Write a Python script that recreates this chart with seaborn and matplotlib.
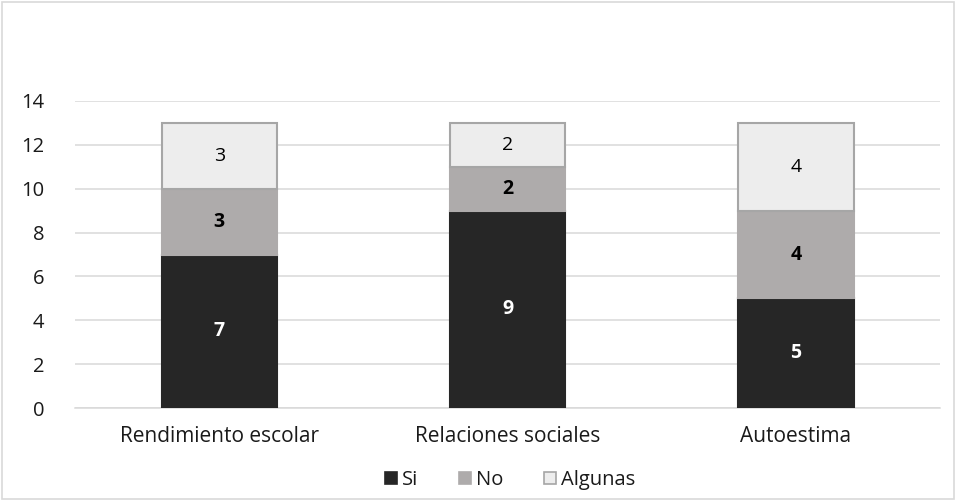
import matplotlib
matplotlib.use("Agg")
import matplotlib.pyplot as plt
from matplotlib.patches import Patch, Rectangle
import numpy as np
import pandas as pd
import seaborn as sns

categories = ["Rendimiento escolar", "Relaciones sociales", "Autoestima"]
si = [7, 9, 5]
no = [3, 2, 4]
algunas = [3, 2, 4]
series_names = ["Si", "No", "Algunas"]
y_ticks = [0, 2, 4, 6, 8, 10, 12, 14]

sns.set_theme(style="white")
plt.rcParams["font.family"] = ["Open Sans", "DejaVu Sans"]

fig = plt.figure(figsize=(9.56, 5.0), dpi=100)
ax = fig.add_axes([75 / 956, 92 / 500, 865 / 956, 307 / 500])

fills = {"Si": "#262626", "No": "#AEABAB", "Algunas": "#EDEDED"}
edges = {"Si": "#262626", "No": "#AEABAB", "Algunas": "#A6A6A6"}
label_style = {
    "Si": dict(color="white", fontweight="bold"),
    "No": dict(color="black", fontweight="bold"),
    "Algunas": dict(color="black", fontweight="normal"),
}

FS = 15

values = {"Si": si, "No": no, "Algunas": algunas}
bottom = np.zeros(len(categories))
for name in series_names:
    df = pd.DataFrame({"cat": categories, "val": values[name]})
    sns.barplot(data=df, x="cat", y="val", ax=ax, color=fills[name],
                width=0.4, bottom=bottom.copy(), edgecolor=edges[name],
                linewidth=1.5, saturation=1, zorder=3)
    container = ax.containers[-1]
    ax.bar_label(container, labels=[str(v) for v in values[name]],
                 label_type="center", fontsize=FS - 1, **label_style[name])
    bottom += np.array(values[name])

ax.set_ylim(0, 14)
ax.set_xlim(-0.5, 2.5)
ax.set_yticks(y_ticks)
ax.set_yticklabels([str(t) for t in y_ticks])
ax.yaxis.grid(True, color="#D9D9D9", linewidth=1.1, zorder=0)
ax.set_axisbelow(True)
for side in ["top", "left", "right"]:
    ax.spines[side].set_visible(False)
ax.spines["bottom"].set_color("#D9D9D9")
ax.spines["bottom"].set_linewidth(1.1)
ax.set_xlabel("")
ax.set_ylabel("")
ax.tick_params(axis="y", length=0, pad=22, labelsize=FS - 0.5, colors="#1a1a1a")
ax.tick_params(axis="x", length=0, pad=13, labelsize=FS, colors="#1a1a1a")

handles = [Patch(facecolor=fills[n], edgecolor=edges[n], linewidth=1.2, label=n)
           for n in series_names]
fig.legend(handles=handles, loc="center", bbox_to_anchor=(510 / 956, 20 / 500),
           ncol=3, frameon=False, fontsize=FS - 0.5, handlelength=0.6,
           handleheight=0.6, handletextpad=0.25, columnspacing=2.0,
           labelcolor="#1a1a1a")

fig.patches.append(Rectangle((0.002, 0.003), 0.996, 0.994, transform=fig.transFigure,
                             fill=False, edgecolor="#D9D9D9", linewidth=1.2))

fig.savefig("out.png", dpi=100)
